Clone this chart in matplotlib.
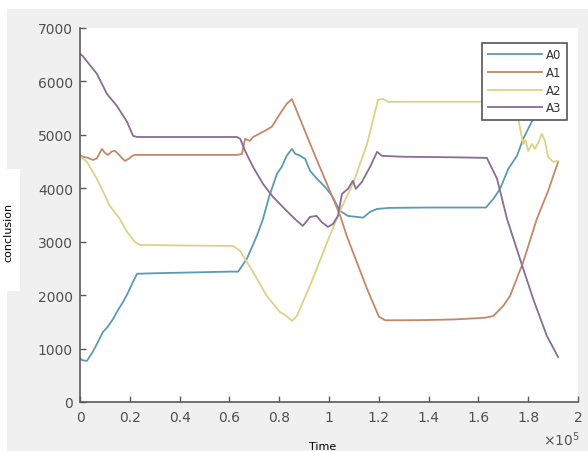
import numpy as np
import matplotlib
matplotlib.use("Agg")
import matplotlib.pyplot as plt
from matplotlib.patches import Rectangle
from matplotlib.ticker import FuncFormatter

# time values (x axis in units of 1e5)
t_a0 = np.array([0, 0.01, 0.028, 0.05, 0.068, 0.092, 0.11, 0.133, 0.15, 0.173, 0.19, 0.209, 0.229,
                 0.3, 0.4, 0.5, 0.6, 0.635, 0.67, 0.71, 0.735, 0.76, 0.791, 0.81, 0.83, 0.851, 0.865,
                 0.88, 0.904, 0.924, 0.952, 0.984, 1.012, 1.044, 1.076, 1.112, 1.137, 1.165, 1.193,
                 1.245, 1.4, 1.55, 1.63, 1.66, 1.687, 1.72, 1.755, 1.78, 1.82, 1.85]) * 1e5
a0 = [820, 780, 770, 930, 1086, 1310, 1400, 1554, 1700, 1873, 2020, 2210, 2400,
      2410, 2420, 2430, 2440, 2440, 2678, 3108, 3427, 3850, 4270, 4400, 4607, 4738, 4640,
      4620, 4551, 4326, 4176, 4026, 3858, 3577, 3483, 3464, 3450, 3558, 3614,
      3633, 3640, 3640, 3640, 3801, 3989, 4363, 4607, 4925, 5300, 5750]

t_a1 = np.array([0, 0.012, 0.032, 0.052, 0.068, 0.088, 0.1, 0.112, 0.128, 0.14, 0.152, 0.168, 0.18,
                 0.195, 0.21, 0.22, 0.4, 0.63, 0.65, 0.663, 0.683, 0.695, 0.735, 0.77, 0.803, 0.83,
                 0.851, 0.936, 1.044, 1.072, 1.15, 1.2, 1.225, 1.3, 1.4, 1.5, 1.6, 1.63, 1.66, 1.7,
                 1.727, 1.78, 1.835, 1.88, 1.92]) * 1e5
a1 = [4620, 4588, 4570, 4530, 4560, 4738, 4663, 4625, 4690, 4700, 4650, 4570, 4513,
      4550, 4607, 4625, 4625, 4625, 4640, 4925, 4888, 4960, 5056, 5150, 5393, 5580,
      5670, 4700, 3500, 3100, 2150, 1600, 1530, 1530, 1535, 1545, 1570, 1580, 1610, 1800,
      1985, 2620, 3430, 3950, 4494]

t_a2 = np.array([0, 0.028, 0.068, 0.12, 0.16, 0.189, 0.22, 0.241, 0.4, 0.615, 0.643, 0.695, 0.75,
                 0.803, 0.83, 0.851, 0.871, 0.93, 0.99, 1.044, 1.096, 1.153, 1.197, 1.217, 1.237,
                 1.4, 1.6, 1.75, 1.76, 1.78, 1.79, 1.8, 1.815, 1.827, 1.84, 1.855, 1.867, 1.88,
                 1.9, 1.92]) * 1e5
a2 = [4600, 4494, 4176, 3670, 3427, 3184, 2996, 2940, 2930, 2921, 2828, 2434, 1985,
      1685, 1610, 1517, 1610, 2250, 2959, 3577, 4082, 4831, 5655, 5674, 5618,
      5620, 5620, 5620, 5300, 4831, 4900, 4700, 4831, 4738, 4850, 5019, 4888, 4588,
      4494, 4513]

t_a3 = np.array([0, 0.01, 0.068, 0.108, 0.148, 0.189, 0.213, 0.23, 0.4, 0.63, 0.643, 0.663, 0.695,
                 0.735, 0.775, 0.83, 0.871, 0.895, 0.924, 0.95, 0.97, 0.996, 1.016, 1.036, 1.052,
                 1.076, 1.096, 1.108, 1.132, 1.165, 1.193, 1.213, 1.3, 1.5, 1.634, 1.675, 1.715,
                 1.767, 1.82, 1.875, 1.92]) * 1e5
a3 = [6517, 6480, 6142, 5768, 5543, 5243, 4981, 4960, 4960, 4960, 4930, 4700, 4400,
      4082, 3839, 3577, 3390, 3296, 3464, 3483, 3371, 3277, 3333, 3483, 3895,
      3989, 4139, 3989, 4120, 4401, 4682, 4607, 4590, 4580, 4569, 4176, 3427,
      2678, 1929, 1236, 843]

series = [("A0", t_a0, a0, "#5a9bb2"),
          ("A1", t_a1, a1, "#c28868"),
          ("A2", t_a2, a2, "#dcd286"),
          ("A3", t_a3, a3, "#8a6c94")]

fig = plt.figure(figsize=(5.88, 4.52), dpi=100, facecolor="white")
# grey figure area of the screenshot
fig.patches.append(Rectangle((7 / 588, 0), 1, (452 - 10) / 452, transform=fig.transFigure,
                             facecolor="#f0f0f0", edgecolor="none", zorder=-2))
fig.patches.append(Rectangle((0, (452 - 292) / 452), 20 / 588, 122 / 452, transform=fig.transFigure,
                             facecolor="white", edgecolor="none", zorder=-1))

ax = fig.add_axes([80 / 588, (452 - 403) / 452, 498 / 588, 374 / 452])
ax.set_zorder(5)
ax.set_facecolor("white")

for name, t, v, c in series:
    ax.plot(t, v, color=c, lw=1.3, label=name)

ax.set_xlim(0, 2e5)
ax.set_ylim(0, 7000)
ax.set_xticks(np.arange(0, 2.01e5, 0.2e5))
ax.set_yticks(np.arange(0, 7001, 1000))
ax.xaxis.set_major_formatter(FuncFormatter(lambda v, p: f"{v / 1e5:g}"))

for s in ["top", "right"]:
    ax.spines[s].set_visible(False)
for s in ["left", "bottom"]:
    ax.spines[s].set_color("#5a5a5a")
    ax.spines[s].set_linewidth(1.2)
ax.tick_params(direction="in", length=4, width=1, colors="#5a5a5a", labelcolor="#505050",
               labelsize=10)
ax.tick_params(axis="x", pad=6)
ax.tick_params(axis="y", pad=5)

leg = ax.legend(loc="upper right", bbox_to_anchor=(0.978, 0.96), borderaxespad=0,
                fancybox=False, framealpha=1, edgecolor="#555555", fontsize=8.5,
                handlelength=4.6, handletextpad=0.35, labelspacing=0.4, borderpad=0.45)
leg.get_frame().set_linewidth(1.2)
for txt in leg.get_texts():
    txt.set_color("#333333")

fig.text(543 / 588, 1 - 446 / 452, r"$\times10^5$", color="#555555", fontsize=10, va="baseline")
fig.text(8 / 588, 1 - 232 / 452, "conclusion", rotation=90, ha="center", va="center",
         fontsize=8, color="black")
fig.text(323 / 588, 1 - 447 / 452, "Time", ha="center", va="center", fontsize=8, color="black")

fig.savefig("out.png", dpi=100, facecolor=fig.get_facecolor())
